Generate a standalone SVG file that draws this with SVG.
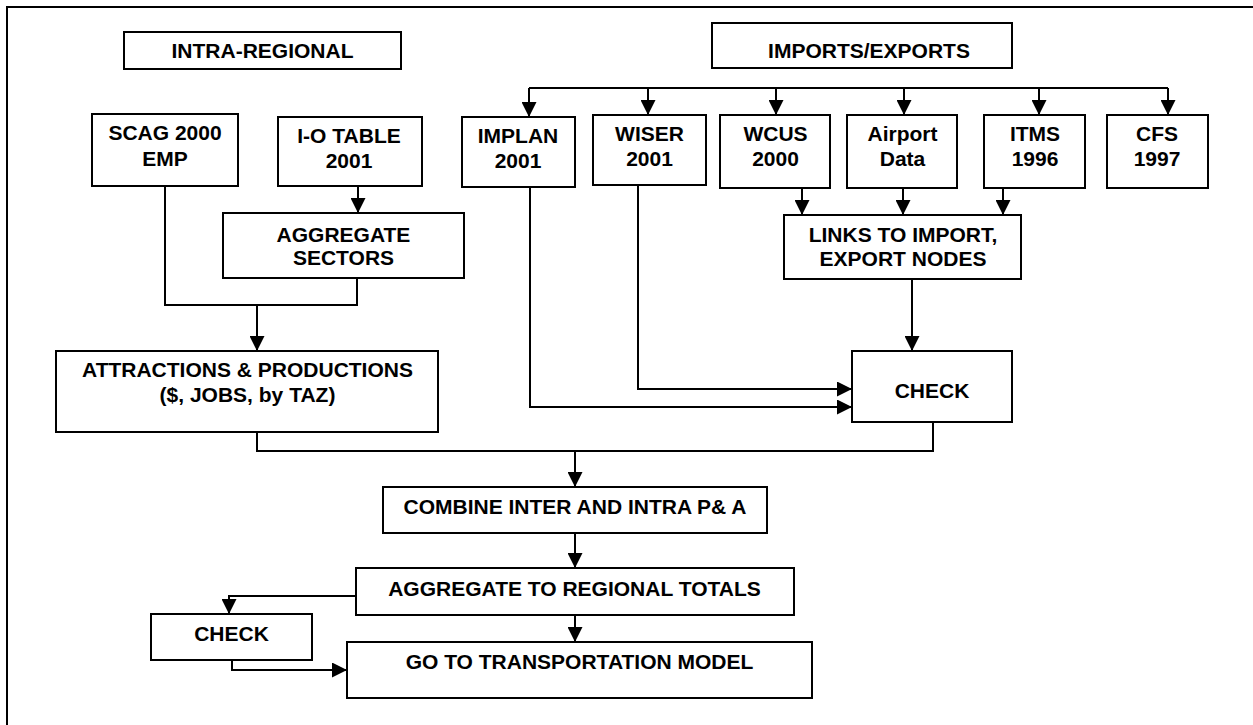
<svg xmlns="http://www.w3.org/2000/svg" width="1253" height="725" viewBox="0 0 1253 725">
<defs>
<style>
.box{fill:#fff;stroke:#000;stroke-width:2}
.t{font-family:"Liberation Sans",Arial,sans-serif;font-weight:bold;font-size:21px;text-anchor:middle;fill:#000}
.c{fill:none;stroke:#000;stroke-width:2}
</style>
<marker id="ah" viewBox="0 0 10 10" refX="10" refY="5" markerWidth="15" markerHeight="15" markerUnits="userSpaceOnUse" orient="auto">
<path d="M0,0 L10,5 L0,10 z" fill="#000"/>
</marker>
</defs>
<rect x="0" y="0" width="1253" height="725" fill="#fff"/>
<rect x="7" y="7" width="1300" height="800" fill="none" stroke="#000" stroke-width="2"/>

<g id="connectors">
<path class="c" d="M358,186 V213" marker-end="url(#ah)"/>
<path class="c" d="M165,186 V305 H357 V278"/>
<path class="c" d="M257,305 V351" marker-end="url(#ah)"/>
<path class="c" d="M529,88 H1168"/>
<path class="c" d="M529,88 V117" marker-end="url(#ah)"/>
<path class="c" d="M648,88 V115" marker-end="url(#ah)"/>
<path class="c" d="M776,88 V115" marker-end="url(#ah)"/>
<path class="c" d="M904,88 V115" marker-end="url(#ah)"/>
<path class="c" d="M1039,88 V115" marker-end="url(#ah)"/>
<path class="c" d="M1168,88 V115" marker-end="url(#ah)"/>
<path class="c" d="M802,188 V215" marker-end="url(#ah)"/>
<path class="c" d="M903,188 V215" marker-end="url(#ah)"/>
<path class="c" d="M1003,188 V215" marker-end="url(#ah)"/>
<path class="c" d="M912,279 V351" marker-end="url(#ah)"/>
<path class="c" d="M638,186 V389 H852" marker-end="url(#ah)"/>
<path class="c" d="M530,187 V407 H852" marker-end="url(#ah)"/>
<path class="c" d="M257,432 V451 H933 V422"/>
<path class="c" d="M575,451 V487" marker-end="url(#ah)"/>
<path class="c" d="M575,533 V568" marker-end="url(#ah)"/>
<path class="c" d="M575,615 V642" marker-end="url(#ah)"/>
<path class="c" d="M356,596 H229 V614" marker-end="url(#ah)"/>
<path class="c" d="M232,660 V670 H347" marker-end="url(#ah)"/>
</g>

<g id="intra-regional"><rect class="box" x="124" y="32" width="277" height="37"/><text class="t" x="262.5" y="58">INTRA-REGIONAL</text></g>
<g id="imports-exports"><rect class="box" x="712" y="23" width="300" height="45"/><text class="t" x="869" y="58">IMPORTS/EXPORTS</text></g>
<g id="scag"><rect class="box" x="92" y="114" width="146" height="72"/><text class="t" x="165" y="140">SCAG 2000</text><text class="t" x="165" y="166">EMP</text></g>
<g id="io-table"><rect class="box" x="278" y="117" width="144" height="69"/><text class="t" x="349" y="143">I-O TABLE</text><text class="t" x="349" y="168">2001</text></g>
<g id="aggregate-sectors"><rect class="box" x="223" y="213" width="241" height="65"/><text class="t" x="343.5" y="242">AGGREGATE</text><text class="t" x="343.5" y="265">SECTORS</text></g>
<g id="attractions"><rect class="box" x="56" y="351" width="382" height="81"/><text class="t" x="247.5" y="377">ATTRACTIONS &amp; PRODUCTIONS</text><text class="t" x="247.5" y="402">($, JOBS, by TAZ)</text></g>
<g id="implan"><rect class="box" x="462" y="117" width="113" height="70"/><text class="t" x="518" y="143">IMPLAN</text><text class="t" x="518" y="168">2001</text></g>
<g id="wiser"><rect class="box" x="593" y="115" width="113" height="70"/><text class="t" x="649.5" y="141">WISER</text><text class="t" x="649.5" y="166">2001</text></g>
<g id="wcus"><rect class="box" x="720" y="115" width="110" height="73"/><text class="t" x="775.5" y="141">WCUS</text><text class="t" x="775.5" y="166">2000</text></g>
<g id="airport"><rect class="box" x="847" y="115" width="110" height="73"/><text class="t" x="902.5" y="141">Airport</text><text class="t" x="902.5" y="166">Data</text></g>
<g id="itms"><rect class="box" x="984" y="115" width="101" height="73"/><text class="t" x="1035" y="141">ITMS</text><text class="t" x="1035" y="166">1996</text></g>
<g id="cfs"><rect class="box" x="1107" y="115" width="101" height="73"/><text class="t" x="1157" y="141">CFS</text><text class="t" x="1157" y="166">1997</text></g>
<g id="links"><rect class="box" x="784" y="215" width="237" height="64"/><text class="t" x="903" y="242">LINKS TO IMPORT,</text><text class="t" x="903" y="266">EXPORT NODES</text></g>
<g id="check-right"><rect class="box" x="852" y="351" width="160" height="71"/><text class="t" x="932" y="398">CHECK</text></g>
<g id="combine"><rect class="box" x="383" y="487" width="384" height="46"/><text class="t" x="575" y="514">COMBINE INTER AND INTRA P&amp; A</text></g>
<g id="aggregate-regional"><rect class="box" x="356" y="568" width="438" height="47"/><text class="t" x="574.5" y="596">AGGREGATE TO REGIONAL TOTALS</text></g>
<g id="check-left"><rect class="box" x="151" y="614" width="161" height="46"/><text class="t" x="231.5" y="641">CHECK</text></g>
<g id="transport"><rect class="box" x="347" y="642" width="465" height="56"/><text class="t" x="579.5" y="669">GO TO TRANSPORTATION MODEL</text></g>
</svg>
